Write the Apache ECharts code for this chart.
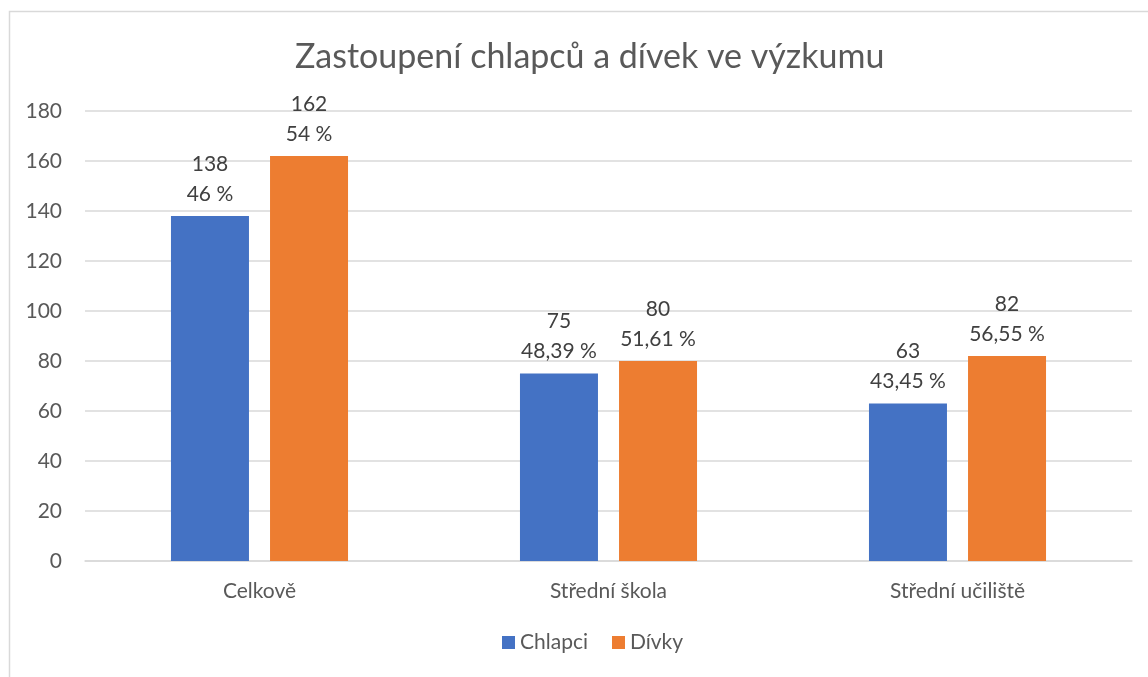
<!DOCTYPE html>
<html>
<head>
<meta charset="utf-8">
<script src="https://cdn.jsdelivr.net/npm/echarts@6/dist/echarts.min.js"></script>
<style>
  body { margin: 0; background: #fff; }
  #chart { width: 1148px; height: 677px; }
</style>
</head>
<body>
<div id="chart"></div>
<script>
var categories = ["Celkově", "Střední škola", "Střední učiliště"];
var chlapci = [138, 75, 63];
var divky = [162, 80, 82];
var chlapciPct = ["46 %", "48,39 %", "43,45 %"];
var divkyPct = ["54 %", "51,61 %", "56,55 %"];
var yTicks = { min: 0, max: 180, interval: 20 };

var font = "Lato, 'Open Sans', sans-serif";

function labelFor(pcts) {
  return {
    show: true,
    position: "top",
    distance: 7,
    color: "#404040",
    fontSize: 21,
    lineHeight: 30,
    fontFamily: font,
    formatter: function(d) {
      return d.value + "\n" + pcts[d.dataIndex];
    }
  };
}

var chart = echarts.init(document.getElementById("chart"));
chart.setOption({
  animation: false,
  textStyle: { fontFamily: font },
  graphic: [{
    type: "rect",
    shape: { x: 9.5, y: 11.5, width: 1200, height: 700 },
    style: { fill: "none", stroke: "#d9d9d9", lineWidth: 1.5 },
    silent: true
  }],
  title: {
    text: "Zastoupení chlapců a dívek ve výzkumu",
    left: 290,
    top: 35,
    textStyle: { color: "#595959", fontSize: 34, fontWeight: "normal", fontFamily: font }
  },
  legend: {
    bottom: 19,
    left: 497,
    itemWidth: 13,
    itemHeight: 13,
    itemGap: 24,
    icon: "rect",
    textStyle: { color: "#595959", fontSize: 21, fontFamily: font },
    data: ["Chlapci", "Dívky"]
  },
  grid: { left: 85, right: 16, top: 111, bottom: 116, containLabel: false },
  xAxis: {
    type: "category",
    data: categories,
    axisLine: { lineStyle: { color: "#d9d9d9", width: 1.5 } },
    axisTick: { show: false },
    axisLabel: { color: "#595959", fontSize: 21, margin: 20, fontFamily: font }
  },
  yAxis: {
    type: "value",
    min: yTicks.min,
    max: yTicks.max,
    interval: yTicks.interval,
    axisLine: { show: false },
    axisTick: { show: false },
    axisLabel: { color: "#595959", fontSize: 21, margin: 23, fontFamily: font },
    splitLine: { lineStyle: { color: "#d9d9d9", width: 1.5 } }
  },
  series: [
    {
      name: "Chlapci",
      type: "bar",
      data: chlapci,
      barWidth: 78,
      barGap: "27%",
      itemStyle: { color: "#4472C4" },
      label: labelFor(chlapciPct)
    },
    {
      name: "Dívky",
      type: "bar",
      data: divky,
      barWidth: 78,
      itemStyle: { color: "#ED7D31" },
      label: labelFor(divkyPct)
    }
  ]
});
</script>
</body>
</html>
